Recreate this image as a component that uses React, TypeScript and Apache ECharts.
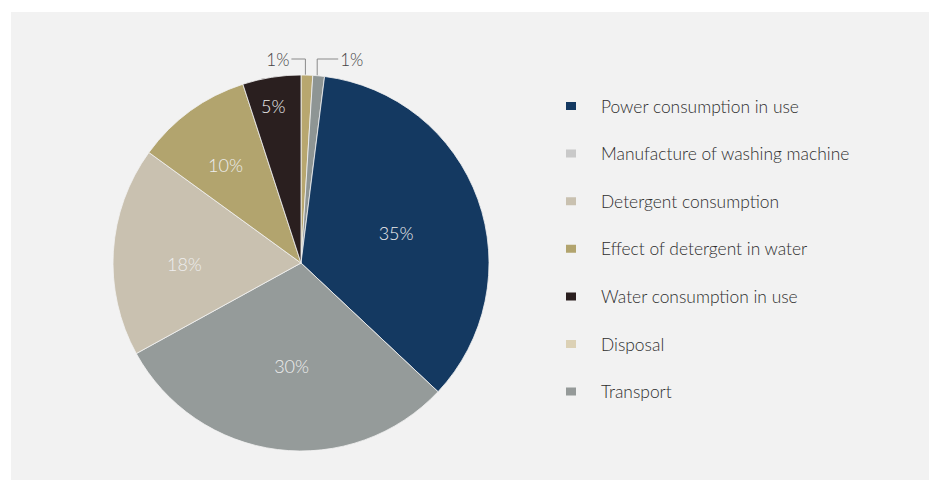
import React, { useEffect, useRef } from "react";
import * as echarts from "echarts";

// Data, in clockwise order starting at 12 o'clock
const sliceNames = [
  "Disposal",
  "Transport",
  "Power consumption in use",
  "Manufacture of washing machine",
  "Detergent consumption",
  "Effect of detergent in water",
  "Water consumption in use",
];
const sliceValues = [1, 1, 35, 30, 18, 10, 5];

// Legend order as shown in the reference
const legendOrder = [
  "Power consumption in use",
  "Manufacture of washing machine",
  "Detergent consumption",
  "Effect of detergent in water",
  "Water consumption in use",
  "Disposal",
  "Transport",
];

// Styles
const sliceColors = ["#b8a76f", "#8e9594", "#143961", "#959b9a", "#c9c1b0", "#b2a46e", "#2a1f1f"];
const legendColors: Record<string, string> = {
  "Power consumption in use": "#143961",
  "Manufacture of washing machine": "#c9c9c9",
  "Detergent consumption": "#c9c1b0",
  "Effect of detergent in water": "#b2a46e",
  "Water consumption in use": "#2a1f1f",
  Disposal: "#dcd1b5",
  Transport: "#959a99",
};
const outsideLabel = [true, true, false, false, false, false, false];
const labelRadiusFrac = [1, 1, 0.53, 0.55, 0.62, 0.66, 0.85];
const labelAngleShift = [0, 0, 2.5, -2, -4, -1.5, -1];
const CX = 301;
const CY = 263;
const R = 188;
const FONT = "Lato, 'Open Sans', sans-serif";

export default function App() {
  const ref = useRef<HTMLDivElement>(null);
  useEffect(() => {
    if (!ref.current) return;
    const chart = echarts.init(ref.current, undefined, { renderer: "svg" });
    const total = sliceValues.reduce((a, b) => a + b, 0);
    const midAngles: number[] = [];
    let acc = 0;
    sliceValues.forEach((v) => {
      midAngles.push(((acc + v / 2) / total) * 2 * Math.PI);
      acc += v;
    });

    chart.setOption({
      animation: false,
      backgroundColor: "#ffffff",
      graphic: [
        {
          type: "rect",
          left: 11,
          top: 12,
          shape: { width: 918, height: 468 },
          style: { fill: "#f2f2f2" },
          z: -10,
        },
      ],
      legend: {
        orient: "vertical",
        left: 559,
        top: 91,
        itemWidth: 12,
        itemHeight: 10,
        itemGap: 27.6,
        icon: "rect",
        data: legendOrder.map((n) => ({ name: n, itemStyle: { color: legendColors[n] } })),
        textStyle: {
          fontFamily: FONT,
          fontSize: 17.4,
          fontWeight: 300,
          lineHeight: 20,
          color: "#2e2e2e",
          padding: [0, 0, 0, 19],
        },
        selectedMode: false,
      },
      series: [
        {
          type: "pie",
          center: [CX, CY],
          radius: [0, R],
          startAngle: 90,
          clockwise: true,
          avoidLabelOverlap: false,
          itemStyle: { borderColor: "#f2f2f2", borderWidth: 0.8 },
          label: {
            show: true,
            position: "inside",
            formatter: "{c}%",
            fontFamily: FONT,
            fontSize: 18,
            fontWeight: 300,
            color: "#eeeeee",
          },
          labelLine: { show: false },
          data: sliceNames.map((n, i) => ({
            name: n,
            value: sliceValues[i],
            itemStyle: { color: sliceColors[i] },
            label: outsideLabel[i]
              ? { position: "outside", color: "#444444", fontSize: 17 }
              : undefined,
            labelLine: outsideLabel[i]
              ? { show: true, lineStyle: { color: "#8a8a8a", width: 1 } }
              : undefined,
          })),
          labelLayout: (params: any) => {
            const i = params.dataIndex;
            const a = midAngles[i] + (labelAngleShift[i] * Math.PI) / 180;
            if (outsideLabel[i]) {
              const ex = CX + R * Math.sin(a) - 1.5;
              const ey = CY - R * Math.cos(a);
              const ty = CY - R - 16;
              const left = i === 0;
              const hx = left ? ex - 14 : ex + 21;
              return {
                x: left ? hx - 2 : hx + 2,
                y: ty,
                align: left ? "right" : "left",
                verticalAlign: "middle",
                labelLinePoints: [
                  [ex, ey],
                  [ex, ty],
                  [hx, ty],
                ],
              };
            }
            const rr = R * labelRadiusFrac[i];
            return {
              x: CX + rr * Math.sin(a),
              y: CY - rr * Math.cos(a),
              align: "center",
              verticalAlign: "middle",
            };
          },
        },
      ],
    });
    return () => chart.dispose();
  }, []);
  return (
    <div
      ref={ref}
      style={{ position: "fixed", left: 0, top: 0, width: 929, height: 480 }}
    />
  );
}
